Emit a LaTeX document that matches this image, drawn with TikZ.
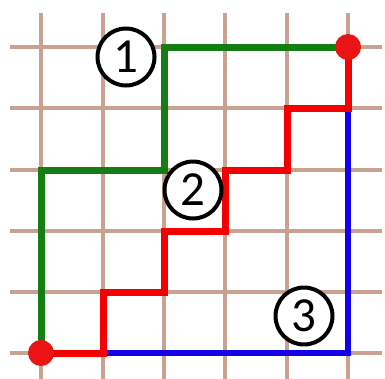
\documentclass[tikz,border=0pt]{standalone}
\usepackage{fontspec}
\setmainfont{Carlito}
\begin{document}
\begin{tikzpicture}[x=1pt,y=-1pt,
  gridline/.style={draw={rgb,255:red,200;green,162;blue,142},line width=4.5pt},
  pathg/.style={draw={rgb,255:red,20;green,125;blue,20},line width=7pt,line join=miter},
  pathr/.style={draw={rgb,255:red,245;green,0;blue,0},line width=7pt,line join=miter},
  pathb/.style={draw={rgb,255:red,20;green,0;blue,230},line width=6pt,line join=miter},
  dot/.style={circle,fill={rgb,255:red,235;green,20;blue,20},minimum size=26pt,inner sep=0pt},
  num/.style={circle,draw=black,line width=4pt,fill=white,minimum size=57pt,inner sep=0pt,font=\fontsize{49}{49}\selectfont}]
\useasboundingbox (0,0) rectangle (385,378);
\fill[white] (0,0) rectangle (385,378);
\foreach \x in {41,103,164,225,287,348} \draw[gridline] (\x,13) -- (\x,382);
\foreach \y in {47,108,170,231,292,353} \draw[gridline] (10,\y) -- (382,\y);
\coordinate (s) at (41,353);
\coordinate (t) at (348,47);
\coordinate (b1) at (103,353);
\draw[pathb] (b1) -- (348,353) -- (348,108);
\draw[pathg] (s) -- (41,170) -- (164,170) -- (164,47) -- (t);
\draw[pathr] (s) -- (b1) -- (103,292) -- (164,292) -- (164,231) -- (225,231) -- (225,170) -- (287,170) -- (287,108) -- (348,108) -- (t);
\node[dot] (d1) at (s) {};
\node[dot] (d2) at (t) {};
\node[num] (n1) at (126,57) {1};
\node[num] (n2) at (193,190) {2};
\node[num] (n3) at (304,316) {3};
\end{tikzpicture}
\end{document}
